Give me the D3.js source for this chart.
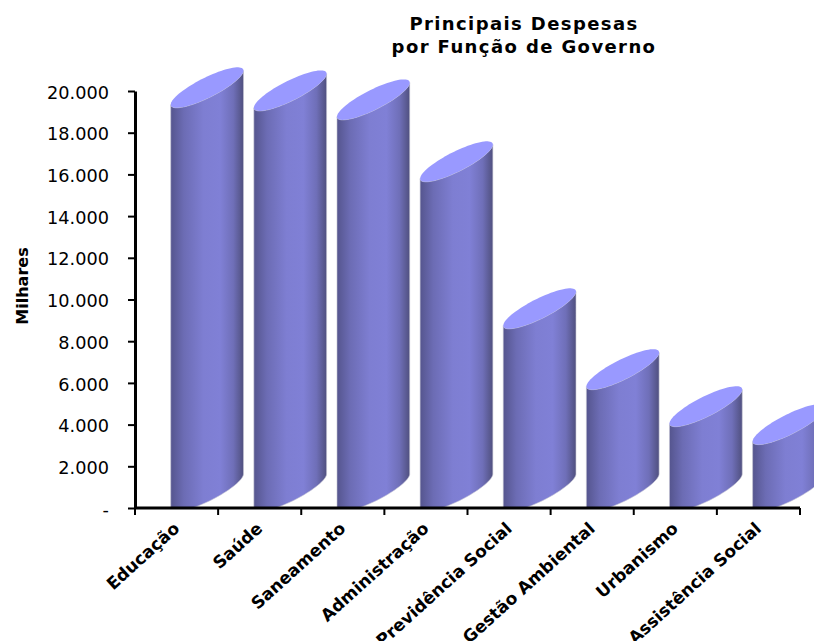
<!DOCTYPE html>
<head>
    <style>
        html, body { margin: 0; padding: 0; background: #fff; overflow: hidden; }
        svg { display: block; font-family: "DejaVu Sans", sans-serif; }
    </style>
</head>
<body>
    <script src="https://d3js.org/d3.v7.min.js"></script>
    <script>
        const w = 814, h = 641;
        const categories = ['Educação', 'Saúde', 'Saneamento', 'Administração',
                            'Previdência Social', 'Gestão Ambiental', 'Urbanismo', 'Assistência Social'];
        const values = [19350, 19200, 18770, 15800, 8750, 5830, 4055, 3195];
        const yTicks = [0, 2000, 4000, 6000, 8000, 10000, 12000, 14000, 16000, 18000, 20000];
        const titleLines = ['Principais Despesas', 'por Função de Governo'];
        const yTitle = 'Milhares';

        const x = d3.scaleBand().domain(categories).range([135, 800]);
        const y = d3.scaleLinear().domain([0, 20000]).range([508, 91]);

        const barLeft = x.step() * 0.43;
        const barWidth = x.step() * 0.875;
        const rise = 34;    // how far the right edge of a cap sits above the left
        const bow = 11;     // half height of the cap, measured across the slant

        // half of a slanted cap, going from left to right; side = 1 lower, -1 upper
        function capPoints(x0, yLeft, side) {
            return d3.range(0, 41).map(i => {
                const t = Math.PI * (1 - i / 40);
                const u = Math.cos(t);
                return [x0 + barWidth / 2 * (1 + u),
                        yLeft - rise / 2 * (1 + u) + side * bow * Math.sin(t)];
            });
        }

        const line = d3.line();

        const svg = d3.select('body')
                      .append('svg')
                      .attr('width', w)
                      .attr('height', h);

        const defs = svg.append('defs');
        const grad = defs.append('linearGradient').attr('id', 'body-shade');
        [[0, '#55558e'], [0.18, '#6c6cb4'], [0.45, '#7e7ed2'], [0.68, '#8080d6'],
         [0.86, '#6f6fb8'], [1, '#50507f']].forEach(s => {
            grad.append('stop').attr('offset', s[0]).attr('stop-color', s[1]);
        });
        defs.append('clipPath').attr('id', 'plot-clip')
            .append('rect').attr('x', 0).attr('y', 0).attr('width', w).attr('height', y(0));

        const bars = svg.append('g').attr('clip-path', 'url(#plot-clip)')
                        .selectAll('g')
                        .data(categories)
                        .enter()
                        .append('g');

        bars.append('path')
            .attr('fill', 'url(#body-shade)')
            .attr('stroke', '#c4c4d4')
            .attr('stroke-width', 0.6)
            .attr('d', (d, i) => {
                const x0 = x(d) + barLeft;
                const top = capPoints(x0, y(values[i]), 1);
                const bottom = capPoints(x0, y(0), 1).reverse();
                return line(top.concat(bottom)) + 'Z';
            });

        bars.append('path')
            .attr('fill', '#9999ff')
            .attr('d', (d, i) => {
                const x0 = x(d) + barLeft;
                const lower = capPoints(x0, y(values[i]), 1);
                const upper = capPoints(x0, y(values[i]), -1).reverse();
                return line(lower.concat(upper)) + 'Z';
            });

        const yAxis = svg.append('g')
            .attr('transform', 'translate(135,0)')
            .call(d3.axisLeft(y)
                    .tickValues(yTicks)
                    .tickSize(7)
                    .tickPadding(19)
                    .tickSizeOuter(0)
                    .tickFormat(d => d === 0 ? '-' : d3.format(',')(d).replace(',', '.')));
        yAxis.selectAll('text')
             .attr('font-size', 17.7)
             .attr('y', 1.5)
             .attr('fill', '#000')
             .attr('font-family', 'DejaVu Sans');
        yAxis.select('.domain').attr('stroke', '#000').attr('stroke-width', 3);
        yAxis.selectAll('line').attr('stroke', '#000').attr('stroke-width', 2);

        // ticks go between the categories, so the axis is drawn from the band edges
        const xAxis = svg.append('g').attr('transform', `translate(0,${y(0)})`);
        xAxis.append('line')
             .attr('x1', x.range()[0]).attr('x2', x.range()[1])
             .attr('stroke', '#000').attr('stroke-width', 3);
        xAxis.selectAll('line.tick')
             .data(categories.map(d => x(d)).concat(x.range()[1]))
             .enter()
             .append('line')
             .attr('class', 'tick')
             .attr('x1', d => d).attr('x2', d => d)
             .attr('y1', 0).attr('y2', 7)
             .attr('stroke', '#000').attr('stroke-width', 2);
        xAxis.selectAll('text')
             .data(categories)
             .enter()
             .append('text')
             .attr('transform', d => `translate(${x(d) + x.bandwidth() / 2 + 4},22) rotate(-42)`)
             .attr('text-anchor', 'end')
             .attr('font-size', 17)
             .attr('font-weight', 'bold')
             .text(d => d);

        svg.append('text')
           .attr('transform', 'translate(28,286) rotate(-90)')
           .attr('text-anchor', 'middle')
           .attr('font-size', 16)
           .attr('font-weight', 'bold')
           .text(yTitle);

        svg.selectAll('text.title')
           .data(titleLines)
           .enter()
           .append('text')
           .attr('class', 'title')
           .attr('x', 524)
           .attr('y', (d, i) => 30 + i * 23)
           .attr('text-anchor', 'middle')
           .attr('font-size', 18)
           .attr('letter-spacing', 1.4)
           .attr('font-weight', 'bold')
           .text(d => d);
    </script>
</body>
